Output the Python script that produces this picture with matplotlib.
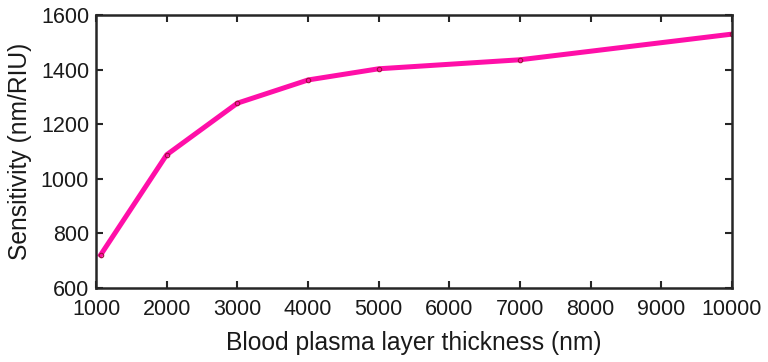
import numpy as np
import matplotlib.pyplot as plt

plt.style.use({
    'font.family': 'sans-serif',
    'font.sans-serif': ['Liberation Sans', 'DejaVu Sans'],
    'font.size': 15.5,
    'axes.labelsize': 17.7,
    'xtick.labelsize': 15.5,
    'ytick.labelsize': 15.5,
})

# thickness (nm) vs sensitivity (nm/RIU)
thickness = [1065, 2000, 3000, 4000, 5000, 7000, 10000]
sensitivity = [721, 1088, 1277, 1362, 1403, 1436, 1530]
xticks = np.arange(1000, 10001, 1000)
yticks = np.arange(600, 1601, 200)

fig = plt.figure(figsize=(7.68, 3.62), dpi=100)
ax = fig.add_axes([96/768, 1 - 288/362, (732-96)/768, (288-15)/362])

ax.plot(thickness, sensitivity, '-', color='#ff0fa8', linewidth=3.6,
        marker='o', markersize=3.2, markerfacecolor='none',
        markeredgecolor='#a0103a', markeredgewidth=0.8)

ax.set_xlim(1000, 10000)
ax.set_ylim(600, 1600)
ax.set_xticks(xticks)
ax.set_yticks(yticks)
ax.tick_params(direction='in', top=True, right=True, length=5, width=1.5,
               color='#262626', labelcolor='#1a1a1a')
ax.tick_params(axis='x', pad=8)
ax.tick_params(axis='y', pad=5)
for s in ax.spines.values():
    s.set_linewidth(1.8)
    s.set_color('#262626')

ax.set_xlabel('Blood plasma layer thickness (nm)', color='#1a1a1a', labelpad=8)
ax.set_ylabel('Sensitivity (nm/RIU)', color='#1a1a1a', labelpad=6)

plt.savefig('out.png', dpi=100)
